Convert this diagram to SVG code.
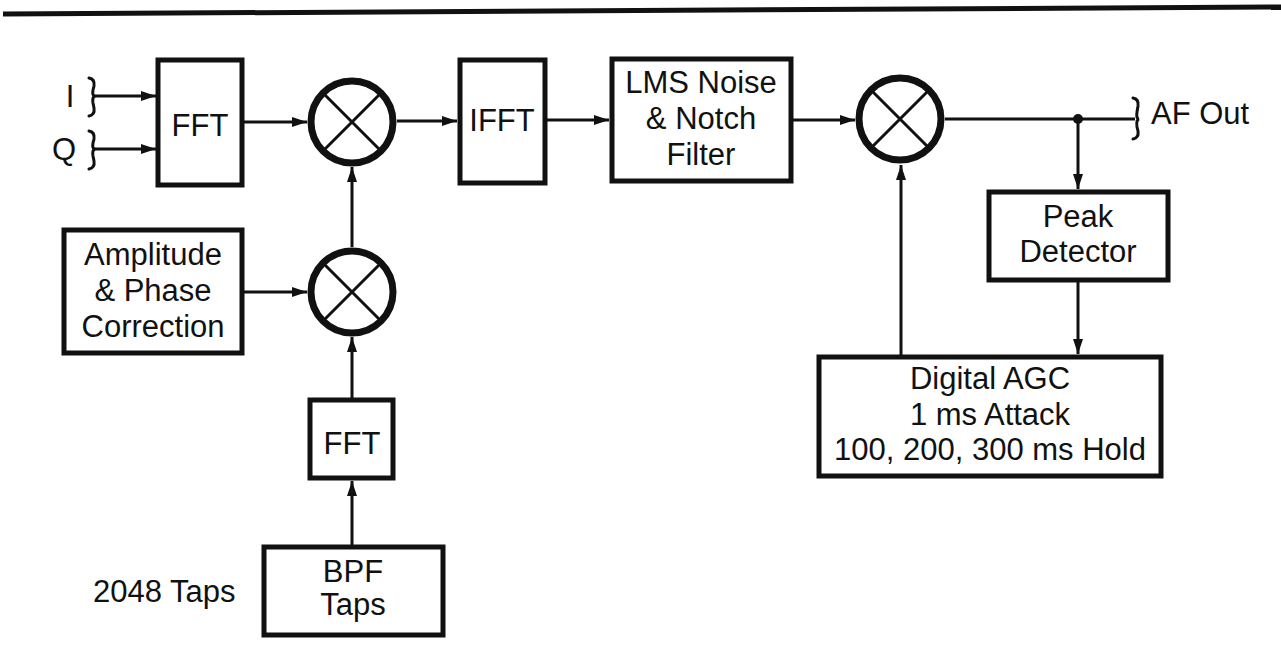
<svg xmlns="http://www.w3.org/2000/svg" width="1281" height="668" viewBox="0 0 1281 668">
<style>
.box{fill:#fff;stroke:#111;stroke-width:5}
.mix{fill:#fff;stroke:#111;stroke-width:7}
.x{stroke:#111;stroke-width:3}
.ln{fill:none;stroke:#111;stroke-width:3}
.br{fill:none;stroke:#111;stroke-width:3;stroke-linecap:round}
text{font-family:"Liberation Sans",Arial,sans-serif;font-size:31px;fill:#111}
.c{text-anchor:middle}
</style>
<defs>
<marker id="ah" markerWidth="16" markerHeight="12" refX="15" refY="6" orient="auto" markerUnits="userSpaceOnUse">
<path d="M0,1 L15,6 L0,11 z" fill="#111"/>
</marker>
</defs>
<rect width="1281" height="668" fill="#fff"/>
<line x1="3" y1="14" x2="1281" y2="7" stroke="#111" stroke-width="5"/>

<g id="connectors">
<path class="ln" d="M94 96 H156" marker-end="url(#ah)"/>
<path class="ln" d="M94 149 H156" marker-end="url(#ah)"/>
<path class="ln" d="M244 122 H307" marker-end="url(#ah)"/>
<path class="ln" d="M397 121 H457" marker-end="url(#ah)"/>
<path class="ln" d="M547 120 H609" marker-end="url(#ah)"/>
<path class="ln" d="M793 120 H855" marker-end="url(#ah)"/>
<path class="ln" d="M945 119 H1135"/>
<circle cx="1078" cy="119" r="5" fill="#111"/>
<path class="ln" d="M1078 119 V189" marker-end="url(#ah)"/>
<path class="ln" d="M1078 282 V354" marker-end="url(#ah)"/>
<path class="ln" d="M901 355 V165" marker-end="url(#ah)"/>
<path class="ln" d="M244 292 H307" marker-end="url(#ah)"/>
<path class="ln" d="M352 247 V167" marker-end="url(#ah)"/>
<path class="ln" d="M352 398 V337" marker-end="url(#ah)"/>
<path class="ln" d="M352 545 V481" marker-end="url(#ah)"/>
<path class="br" d="M89 78 Q95 79 94 86 L93 90 Q92 96 95 96 Q92 97 93 103 L94 108 Q95 115 89 116"/>
<path class="br" d="M89 131 Q95 132 94 139 L93 143 Q92 149 95 149 Q92 150 93 156 L94 161 Q95 168 89 169"/>
<path class="br" d="M1133 98 Q1139 99 1138 106 L1137 112 Q1136 119 1139 119 Q1136 120 1137 127 L1138 131 Q1139 138 1133 139"/>
</g>

<g id="in-labels">
<text x="70" y="107" class="c">I</text>
<text x="64" y="160" class="c">Q</text>
</g>

<g id="fft1">
<rect class="box" x="158" y="60" width="84" height="125"/>
<text x="200" y="136" class="c">FFT</text>
</g>

<g id="mixer1">
<circle class="mix" cx="352" cy="122" r="41"/>
<line class="x" x1="323" y1="93" x2="381" y2="151"/>
<line class="x" x1="381" y1="93" x2="323" y2="151"/>
</g>

<g id="ifft">
<rect class="box" x="460" y="60" width="85" height="123"/>
<text x="502" y="131" class="c">IFFT</text>
</g>

<g id="lms">
<rect class="box" x="612" y="59" width="179" height="122"/>
<text x="701" y="93" class="c">LMS Noise</text>
<text x="701" y="129" class="c">&amp; Notch</text>
<text x="701" y="165" class="c">Filter</text>
</g>

<g id="mixer2">
<circle class="mix" cx="900" cy="119" r="41"/>
<line class="x" x1="871" y1="90" x2="929" y2="148"/>
<line class="x" x1="929" y1="90" x2="871" y2="148"/>
</g>

<g id="afout">
<text x="1151" y="124">AF Out</text>
</g>

<g id="peak">
<rect class="box" x="989" y="192" width="179" height="88"/>
<text x="1078" y="227" class="c">Peak</text>
<text x="1078" y="262" class="c">Detector</text>
</g>

<g id="agc">
<rect class="box" x="819" y="357" width="342" height="119"/>
<text x="990" y="389" class="c">Digital AGC</text>
<text x="990" y="425" class="c">1 ms Attack</text>
<text x="990" y="460" class="c">100, 200, 300 ms Hold</text>
</g>

<g id="ampphase">
<rect class="box" x="64" y="230" width="178" height="123"/>
<text x="153" y="265" class="c">Amplitude</text>
<text x="153" y="301" class="c">&amp; Phase</text>
<text x="153" y="337" class="c">Correction</text>
</g>

<g id="mixer3">
<circle class="mix" cx="352" cy="292" r="41"/>
<line class="x" x1="323" y1="263" x2="381" y2="321"/>
<line class="x" x1="381" y1="263" x2="323" y2="321"/>
</g>

<g id="fft2">
<rect class="box" x="310" y="400" width="83" height="78"/>
<text x="352" y="454" class="c">FFT</text>
</g>

<g id="bpf">
<rect class="box" x="264" y="547" width="179" height="88"/>
<text x="353" y="582" class="c">BPF</text>
<text x="353" y="615" class="c">Taps</text>
</g>

<g id="taps-label">
<text x="93" y="602">2048 Taps</text>
</g>
</svg>
